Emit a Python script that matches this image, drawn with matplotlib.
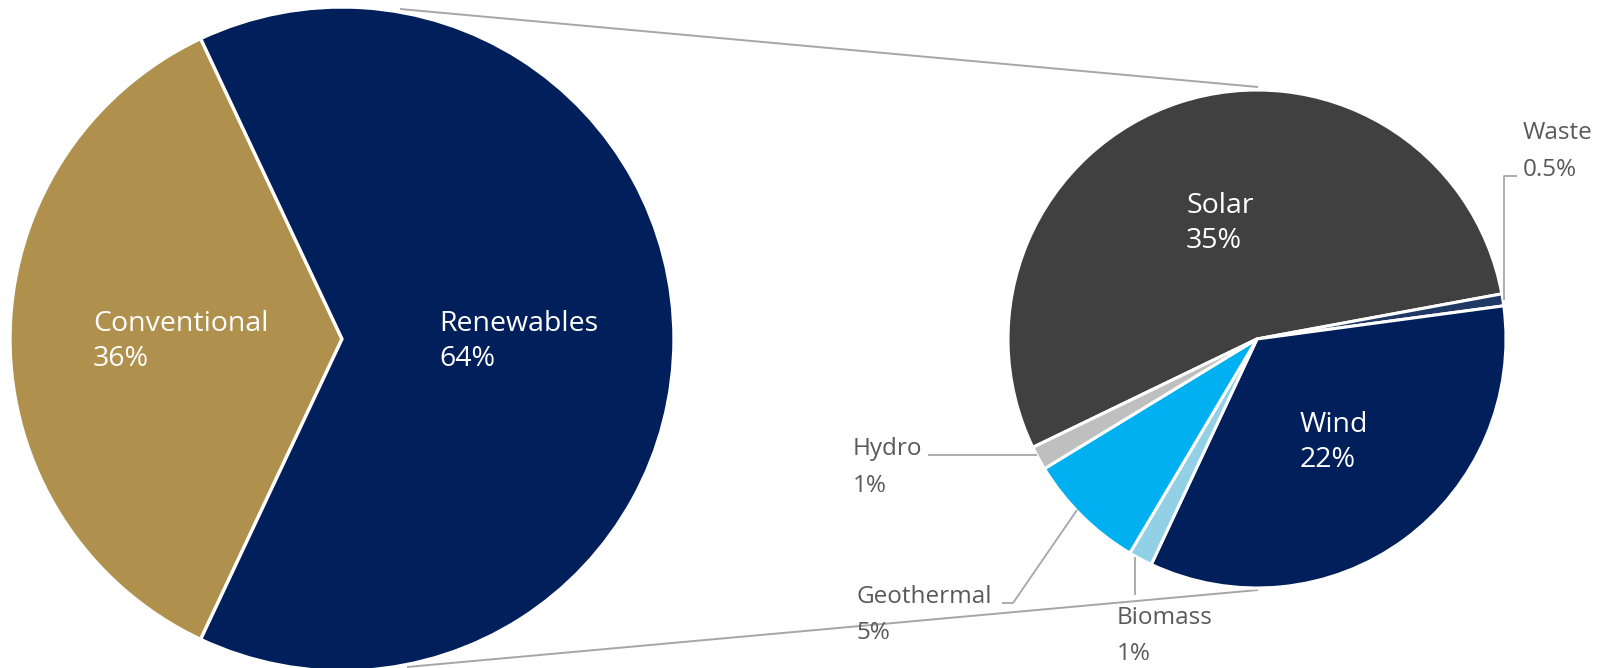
import matplotlib
matplotlib.use("Agg")
import matplotlib.pyplot as plt

# ---------------- data ----------------
main_labels = ["Conventional", "Renewables"]
main_values = [36, 64]
main_pct = ["36%", "64%"]

ren_labels = ["Solar", "Waste", "Wind", "Biomass", "Geothermal", "Hydro"]
ren_values = [35, 0.5, 22, 1, 5, 1]
ren_pct = ["35%", "0.5%", "22%", "1%", "5%", "1%"]

# ---------------- style ----------------
main_colors = ["#AF904C", "#001F5B"]
ren_colors = ["#404040", "#1F3864", "#001F5B", "#92D0E6", "#00B0F0", "#BFBFBF"]
FONT = ["Open Sans", "DejaVu Sans"]
INNER_FS = 20.5
OUTER_FS = 17.5
OUT_COLOR = "#595959"
LINE_COLOR = "#A6A6A6"

W, H = 1602, 668
fig = plt.figure(figsize=(W / 100, H / 100), dpi=100)
ax = fig.add_axes([0, 0, 1, 1])


def Y(y):
    return H - y


big_c = (342, Y(339))
big_r = 332
small_c = (1257, Y(339))
small_r = 249

# connector lines (behind pies)
ax.plot([400, 1258], [Y(9), Y(87)], color=LINE_COLOR, lw=1.4, zorder=0,
        solid_capstyle="butt")
ax.plot([407, 1258], [Y(667), Y(590)], color=LINE_COLOR, lw=1.4, zorder=0,
        solid_capstyle="butt")

ax.pie(main_values, colors=main_colors, startangle=180 - main_values[0] * 1.8,
       counterclock=True, center=big_c, radius=big_r,
       wedgeprops=dict(edgecolor="white", linewidth=2.4))
ax.pie(ren_values, colors=ren_colors, startangle=205.8, counterclock=False,
       center=small_c, radius=small_r,
       wedgeprops=dict(edgecolor="white", linewidth=2.2))

# label layout: (x, baseline y of name line, line gap, inside?)
main_pos = [(93, 331, 35), (439, 331, 35)]
ren_pos = {
    "Solar": (1186, 213, 35, True),
    "Waste": (1523, 139, 37, False),
    "Wind": (1300, 432, 35, True),
    "Biomass": (1117, 624, 36, False),
    "Geothermal": (856, 603, 36, False),
    "Hydro": (853, 455, 37, False),
}

for lab, pct, (x, yb, gap) in zip(main_labels, main_pct, main_pos):
    for t, yy in ((lab, yb), (pct, yb + gap)):
        ax.text(x, Y(yy), t, color="white", fontsize=INNER_FS, family=FONT,
                ha="left", va="baseline")

for lab, pct in zip(ren_labels, ren_pct):
    x, yb, gap, inside = ren_pos[lab]
    col = "white" if inside else OUT_COLOR
    fs = INNER_FS if inside else OUTER_FS
    for t, yy in ((lab, yb), (pct, yb + gap)):
        ax.text(x, Y(yy), t, color=col, fontsize=fs, family=FONT,
                ha="left", va="baseline")

# leader lines
leaders = [
    [(1504, 300), (1504, 176), (1517, 176)],        # Waste
    [(1037, 455), (928, 455)],                      # Hydro
    [(1077, 510), (1013, 603), (1002, 603)],        # Geothermal
    [(1135, 557), (1135, 595)],                     # Biomass
]
for pts in leaders:
    ax.plot([p[0] for p in pts], [Y(p[1]) for p in pts], color=LINE_COLOR,
            lw=1.3, zorder=3, solid_capstyle="butt")

ax.set_xlim(0, W)
ax.set_ylim(0, H)
ax.set_aspect("equal")
ax.axis("off")

fig.savefig("out.png", dpi=100, facecolor="white")
